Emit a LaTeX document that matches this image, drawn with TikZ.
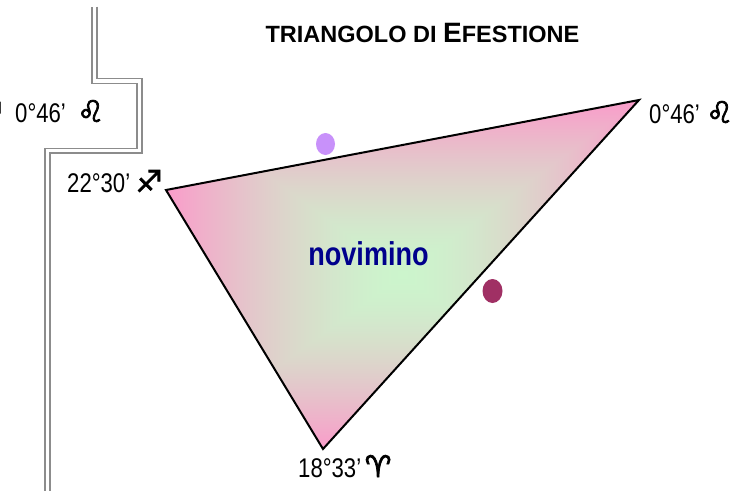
\documentclass[tikz,border=0pt]{standalone}
\usepackage{fontspec}
\setmainfont{Liberation Sans}
\newfontfamily\narrowfont{Liberation Sans}[FakeStretch=0.82]
\newfontfamily\zodiacfont{DejaVu Sans}[FakeBold=2.5]
\usetikzlibrary{positioning}
\definecolor{dotlilac}{RGB}{200,145,250}
\definecolor{dotwine}{RGB}{160,48,100}
\definecolor{namenavy}{RGB}{0,0,140}
\definecolor{wallgray}{RGB}{140,140,140}
% pink at the border of the box, pale green in the middle
\pgfdeclarefunctionalshading{rectgrad}{\pgfpointorigin}{\pgfpoint{100bp}{100bp}}{}{
  50 sub abs exch 50 sub abs 2 copy lt {exch} if pop 25 div dup 1 gt {pop 1} if
  dup sqrt mul
  dup dup
  -0.01 mul 0.80 add 3 1 roll
  -0.35 mul 0.96 add 3 1 roll
  0.18 mul 0.80 add 3 1 roll
}
\newcommand{\zod}[1]{{\zodiacfont\fontsize{30}{30}\selectfont #1}}
\tikzset{
  vlabel/.style={inner sep=0pt, font=\fontsize{27}{30}\selectfont\narrowfont},
  zodsym/.style={inner sep=0pt},
  wall/.style={draw=wallgray, line width=1.7pt, double=white, double distance=3.2pt},
  edge/.style={draw=black, line width=2pt, line join=miter},
}

\begin{document}
\begin{tikzpicture}[x=1pt, y=-1pt]
  \useasboundingbox (0,0) rectangle (747,490);

  \coordinate (A) at (166,190);
  \coordinate (B) at (639,100);
  \coordinate (C) at (323,449);

  \draw[wall] (94.2,6.7) |- (139.5,81) |- (47.5,150.8) -- (47.5,492);

  \shade[shading=rectgrad] (A) -- (B) -- (C) -- cycle;
  \draw[edge] (A) -- (B) -- (C) -- cycle;

  \fill[dotlilac] (325.5,144) ellipse [x radius=9.5, y radius=11];
  \fill[dotwine] (492.5,291) ellipse [x radius=10, y radius=12];

  \node[anchor=base, font=\bfseries\fontsize{23.5}{26}\selectfont] (title) at (422.5,42)
    {TRIANGOLO DI {\fontsize{28}{28}\selectfont E}FESTIONE};

  \node[anchor=base, text=namenavy, font=\bfseries\fontsize{33}{36}\selectfont\narrowfont]
    (name) at (368.5,265) {novimino};

  \node[zodsym, anchor=base east] (cutS) at (3,124) {\zod{♐}};
  \node[vlabel, anchor=base west] (lblL) at (15,122) {0°46’};
  \node[zodsym, base right=11pt of lblL] (symL) {\zod{♌}};

  \node[vlabel, anchor=base west] (lblB) at (649,123) {0°46’};
  \node[zodsym, base right=6pt of lblB] (symB) {\zod{♌}};

  \node[vlabel, anchor=base west] (lblA) at (67,192) {22°30’};
  \node[zodsym, base right=5pt of lblA] (symA) {\zod{♐}};

  \node[vlabel, anchor=base west] (lblC) at (298,477) {18°33’};
  \node[zodsym, base right=3pt of lblC] (symC) {\zod{♈}};
\end{tikzpicture}
\end{document}
